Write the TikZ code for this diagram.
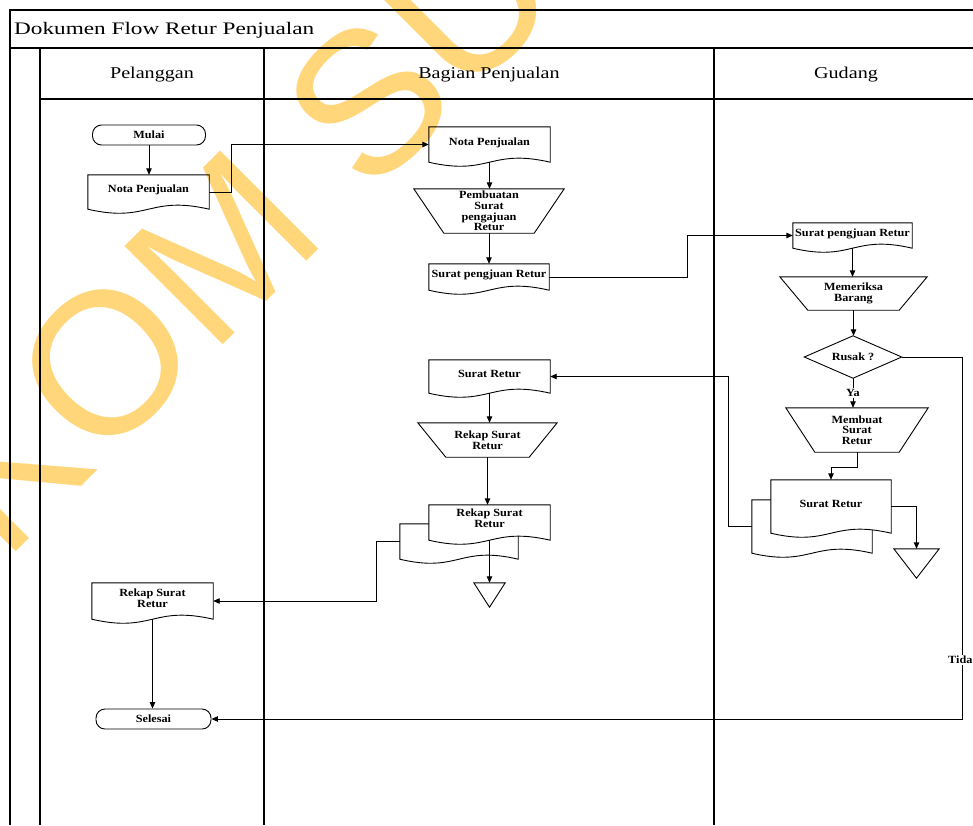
\documentclass[tikz,border=0pt]{standalone}
\usepackage{fontspec}
\setmainfont{Liberation Serif}
\newfontfamily\titlefont[FakeStretch=1.32]{Liberation Serif}
\newfontfamily\lanefont[FakeStretch=1.22]{Liberation Serif}
\newfontfamily\shapefont[FakeStretch=1.11]{Liberation Serif}
\newfontfamily\wmfont{Liberation Sans}
\usetikzlibrary{arrows.meta,calc}
\definecolor{wmyellow}{RGB}{255,214,122}

\newcommand{\docoutline}[2][]{%
  \draw[shapeline,#1] (#2.north west) -- (#2.north east) -- (#2.south east)
    .. controls ($(#2.south)+(0,-14)$) and ($(#2.south)+(0,14)$) .. (#2.south west) -- cycle;}
\newcommand{\trapoutline}[2]{%
  \draw[shapeline] (#1.north west) -- (#1.north east) -- ($(#1.south east)+(-#2,0)$) -- ($(#1.south west)+(#2,0)$) -- cycle;}
\newcommand{\diaoutline}[1]{%
  \draw[shapeline] (#1.north) -- (#1.east) -- (#1.south) -- (#1.west) -- cycle;}
\newcommand{\trioutline}[1]{%
  \draw[shapeline] (#1.north west) -- (#1.north east) -- (#1.south) -- cycle;}

\tikzset{
  frame/.style={line width=1.1pt, draw=black},
  shapeline/.style={line width=0.9pt, draw=black},
  arr/.style={shapeline, -{Triangle[length=6.5pt,width=5.5pt]}},
  shapetext/.style={font=\shapefont\bfseries\fontsize{11}{10.6}\selectfont, align=center, inner sep=0pt},
  box/.style={rectangle, inner sep=0pt},
  docbox/.style={box, shapetext, text depth=6pt},
  terminal/.style={shapetext, shapeline, rounded corners=9pt, minimum height=20pt},
  lbl/.style={font=\shapefont\bfseries\fontsize{11}{10.6}\selectfont, fill=white, inner sep=1pt},
  titlestyle/.style={font=\titlefont\fontsize{17.6}{20}\selectfont, inner sep=0pt},
  lanestyle/.style={font=\lanefont\fontsize{16.5}{19}\selectfont, inner sep=0pt},
  wm/.style={font=\wmfont\fontsize{202}{202}\selectfont, text=wmyellow, inner sep=0pt}
}

\begin{document}
\begin{tikzpicture}[x=1pt,y=-1pt]
\clip (0,0) rectangle (973,825);
\fill[white] (0,0) rectangle (973,825);

% watermark
\node[wm, rotate=45, anchor=base west] (wmark) at (-217.7,785.5) {STIKOM SURABAYA};

% frame and lanes
\draw[frame] (10,825) -- (10,10) -- (973,10);
\draw[frame] (10,48) -- (973,48);
\draw[frame] (40,48) -- (40,825);
\draw[frame] (40,99) -- (973,99);
\draw[frame] (264,48) -- (264,825);
\draw[frame] (714,48) -- (714,825);

\node[titlestyle, anchor=base west] (title) at (14,34.5) {Dokumen Flow Retur Penjualan};
\node[lanestyle, anchor=base] (lane1) at (152,78) {Pelanggan};
\node[lanestyle, anchor=base] (lane2) at (489,78) {Bagian Penjualan};
\node[lanestyle, anchor=base] (lane3) at (846,78) {Gudang};

% Pelanggan
\node[terminal, minimum width=113pt] (mulai) at (149,135) {Mulai};
\node[docbox, minimum width=121pt, minimum height=34pt] (nota1) at (148.5,192) {Nota Penjualan};
\docoutline{nota1}
\node[docbox, minimum width=121pt, minimum height=36pt] (rk2) at (152.5,601) {Rekap Surat\\Retur};
\docoutline{rk2}
\node[terminal, minimum width=115pt] (selesai) at (153.5,719) {Selesai};

% Bagian Penjualan
\node[docbox, minimum width=121pt, minimum height=35pt] (nota2) at (489.5,144.5) {Nota Penjualan};
\docoutline{nota2}
\node[box, shapetext, minimum width=150pt, minimum height=44pt] (t1) at (489,211) {Pembuatan\\Surat\\pengajuan\\Retur};
\trapoutline{t1}{30}
\node[docbox, minimum width=120pt, minimum height=26pt] (sp1) at (489,277) {Surat pengjuan Retur};
\docoutline{sp1}
\node[docbox, minimum width=121pt, minimum height=33pt] (sr1) at (489.5,376.5) {Surat Retur};
\docoutline{sr1}
\node[box, shapetext, minimum width=139pt, minimum height=34pt] (t4) at (487.5,440) {Rekap Surat\\Retur};
\trapoutline{t4}{28}
\node[box, minimum width=118pt, minimum height=35pt] (rk1b) at (459,541.5) {};
\docoutline[fill=white]{rk1b}
\node[box, minimum width=121pt, minimum height=35pt] (rk1f) at (489.5,522.5) {};
\docoutline[fill=white]{rk1f}
\node[shapetext] (rk1t) at (489.5,518.5) {Rekap Surat\\Retur};
\node[box, minimum width=31pt, minimum height=24pt] (tri1) at (489.5,595) {};
\trioutline{tri1}

% Gudang
\node[docbox, minimum width=119pt, minimum height=25pt] (sp2) at (852.5,235.5) {Surat pengjuan Retur};
\docoutline{sp2}
\node[box, shapetext, minimum width=147pt, minimum height=33pt] (t2) at (853.5,293.5) {Memeriksa\\Barang};
\trapoutline{t2}{28}
\node[box, shapetext, minimum width=97pt, minimum height=42pt] (dia) at (853,357) {Rusak ?};
\diaoutline{dia}
\node[box, shapetext, minimum width=142pt, minimum height=44pt] (t3) at (857,430) {Membuat\\Surat\\Retur};
\trapoutline{t3}{29}
\node[box, minimum width=120pt, minimum height=53pt] (sr2b) at (812,526.5) {};
\docoutline[fill=white]{sr2b}
\node[box, minimum width=120pt, minimum height=53pt] (sr2f) at (831,506.5) {};
\docoutline[fill=white]{sr2f}
\node[shapetext] (sr2t) at (831,503.5) {Surat Retur};
\node[box, minimum width=45pt, minimum height=29pt] (tri2) at (916.5,563.5) {};
\trioutline{tri2}
\coordinate (tidak) at (962,719);

% connectors
\draw[arr] (mulai.south) -- (mulai.south |- nota1.north);
\draw[arr] (nota1.east) -- ++(22,0) |- (nota2.west);
\draw[arr] (nota2.south) -- (nota2.south |- t1.north);
\draw[arr] (t1.south) -- (t1.south |- sp1.north);
\draw[arr] (sp1.east) -- ++(138,0) |- (sp2.west);
\draw[arr] (sp2.south) -- (sp2.south |- t2.north);
\draw[arr] (t2.south) -- (t2.south |- dia.north);
\draw[arr] (dia.south) -- node[lbl] (ya) {Ya} (dia.south |- t3.north);
\draw[arr] (dia.east) -| (tidak) -- (selesai.east);
\node[lbl, anchor=west] (tidalbl) at (947,660) {Tida};
\draw[arr] (t3.south) -- ++(0,15) -| (sr2f.north);
\draw[arr] (sr2f.east) -| (tri2.north);
\draw[arr] (sr2b.west) -- ++(-23,0) |- (sr1.east);
\draw[arr] (sr1.south) -- (sr1.south |- t4.north);
\draw[arr] (t4.south) -- (t4.south |- rk1f.north);
\draw[arr] (rk1f.south) -- (tri1.north);
\draw[arr] (rk1b.west) -- ++(-23,0) |- (rk2.east);
\draw[arr] (rk2.south) -- (rk2.south |- selesai.north);
\end{tikzpicture}
\end{document}
